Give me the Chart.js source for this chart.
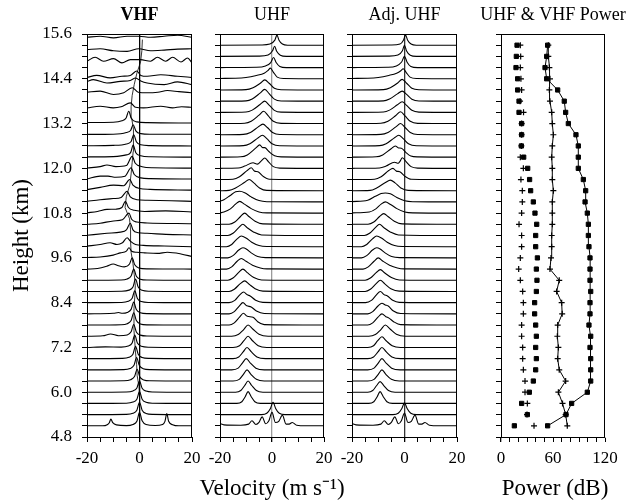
<!DOCTYPE html>
<html>
<head>
<meta charset="utf-8">
<script src="https://cdn.jsdelivr.net/npm/chart.js@4"></script>
<style>
  html, body { margin: 0; padding: 0; background: #fff; }
  #wrap { position: relative; width: 635px; height: 504px; }
  #wrap canvas { position: absolute; left: 0; top: 0; }
</style>
</head>
<body>
<div id="wrap">
  <canvas id="vhfChart" width="635" height="504"></canvas>
  <canvas id="uhfChart" width="635" height="504"></canvas>
  <canvas id="adjChart" width="635" height="504"></canvas>
  <canvas id="powerChart" width="635" height="504"></canvas>
</div>
<script>
// range gates (km), bottom to top
const heights = [5.1, 5.4, 5.7, 6.0, 6.3, 6.6, 6.9, 7.2, 7.5, 7.8, 8.1, 8.4, 8.7, 9.0, 9.3, 9.6, 9.9, 10.2,
  10.5, 10.8, 11.1, 11.4, 11.7, 12.0, 12.3, 12.6, 12.9, 13.2, 13.5, 13.8, 14.1, 14.4, 14.7, 15.0, 15.3];
const gateSpacing = 0.3; // one trace step = one gate

// spectra: [velocity (m/s), amplitude in trace steps], one list per gate, bottom to top
const vhfSpectra = [
  [[-20,0],[-14,0],[-12.3,0.1],[-11.5,0.28],[-10.9,0.6],[-10.2,0.28],[-8.8,0.08],[-5,0.02],[-2.5,0.12],[-1,0.4],[0,1.2],[1,0.45],[2.5,0.12],[6,0.03],[8.8,0.12],[9.7,0.4],[10.4,1.1],[11.1,0.4],[12.6,0.1],[15,0],[20,0]],
  [[-20,0],[-5,0.02],[-2.5,0.12],[-1,0.4],[0,1.1],[1,0.4],[2.5,0.1],[5,0.02],[20,0]],
  [[-20,0],[-5,0.02],[-2.5,0.12],[-1,0.38],[0,1.05],[1,0.38],[2.5,0.1],[5,0.02],[20,0]],
  [[-20,0],[-5,0.02],[-2.5,0.12],[-1,0.38],[0,1.0],[1,0.36],[2.5,0.1],[5,0.02],[20,0]],
  [[-20,0],[-6,0.02],[-3.4,0.12],[-1.9,0.4],[-0.9,1.05],[0.1,0.38],[1.6,0.1],[4,0.02],[20,0]],
  [[-20,0],[-6,0.02],[-3.6,0.12],[-2.1,0.4],[-1.1,1.1],[-0.1,0.4],[1.4,0.1],[4,0.02],[20,0]],
  [[-20,0],[-6.5,0.02],[-4,0.12],[-2.5,0.4],[-1.5,1.1],[-0.5,0.4],[1,0.1],[3.5,0.02],[20,0]],
  [[-20,0],[-13,0.05],[-7,0.03],[-4.3,0.12],[-2.8,0.4],[-1.8,1.1],[-0.8,0.4],[0.7,0.1],[3.5,0.02],[20,0]],
  [[-20,0],[-14,0.04],[-11,0.2],[-8,0.05],[-4.7,0.12],[-3.2,0.4],[-2.2,1.05],[-1.2,0.38],[0.3,0.1],[3,0.02],[20,0]],
  [[-20,0],[-7,0.03],[-4.7,0.12],[-3.2,0.4],[-2.2,1.1],[-1.2,0.4],[0.3,0.1],[3,0.02],[20,0]],
  [[-20,0],[-10,0.05],[-8,0.12],[-6.5,0.05],[-4.7,0.12],[-3.2,0.4],[-2.2,1.05],[-1.2,0.38],[0.3,0.1],[3,0.02],[20,0]],
  [[-20,0],[-7,0.02],[-4.3,0.12],[-2.8,0.4],[-1.8,1.05],[-0.8,0.38],[0.7,0.1],[3.5,0.02],[20,0]],
  [[-20,0],[-7,0.02],[-4,0.12],[-2.5,0.4],[-1.5,1.1],[-0.5,0.4],[1,0.1],[3.5,0.02],[20,0]],
  [[-20,0],[-7,0.02],[-4.7,0.12],[-3.2,0.38],[-2.2,1.0],[-1.2,0.36],[0.3,0.1],[3,0.02],[20,0]],
  [[-20,0],[-16,0.05],[-12.5,0.25],[-10,0.45],[-8,0.3],[-5.8,0.2],[-3.8,0.45],[-2.8,1.0],[-1.8,0.38],[-0.3,0.1],[3,0.02],[20,0]],
  [[-20,0.03],[-15,0.08],[-10,0.25],[-7.3,0.45],[-5,0.6],[-4,0.9],[-3,0.6],[-1,0.5],[2,0.45],[6.8,0.4],[10.6,0.5],[15.8,0.35],[20,0.12]],
  [[-20,0.05],[-15,0.2],[-11.2,0.35],[-8.6,0.2],[-6.5,0.35],[-4.7,0.8],[-3.5,0.5],[-1.5,0.2],[1.5,0.12],[9.4,0.06],[20,0]],
  [[-20,0.02],[-12.4,0.2],[-7.3,0.3],[-5,0.5],[-3.5,1.1],[-2.5,0.5],[-0.5,0.25],[2.9,0.2],[10,0.1],[20,0.05]],
  [[-20,0],[-15,0.1],[-9.9,0.3],[-6.5,0.4],[-4,1.0],[-3,0.45],[-1,0.2],[2.9,0.12],[20,0.05]],
  [[-20,0.03],[-16,0.15],[-12.4,0.33],[-9,0.35],[-6.7,0.5],[-5.4,1.05],[-4.2,0.5],[-2,0.25],[2,0.15],[10,0.2],[20,0.1]],
  [[-20,0.05],[-15,0.2],[-10,0.3],[-7,0.4],[-4.7,0.95],[-3.5,0.45],[-1,0.2],[3,0.15],[12,0.1],[20,0.05]],
  [[-20,0.1],[-15,0.3],[-9.9,0.5],[-6,0.45],[-3.7,1.0],[-2.5,0.5],[0,0.2],[4,0.12],[20,0.05]],
  [[-20,0.05],[-15,0.3],[-12,0.3],[-9,0.2],[-5.5,0.3],[-3.2,1.05],[-2,0.45],[0.5,0.15],[4,0.08],[20,0.05]],
  [[-20,0.03],[-15,0.15],[-12.4,0.3],[-9,0.15],[-5,0.25],[-2.8,1.07],[-1.6,0.45],[1,0.15],[5,0.05],[20,0.02]],
  [[-20,0.02],[-10,0.05],[-5,0.2],[-3.4,0.4],[-2.4,1.07],[-1.4,0.4],[0.5,0.12],[4,0.03],[20,0]],
  [[-20,0.02],[-10,0.05],[-5,0.18],[-3.2,0.4],[-2.2,1.0],[-1.2,0.38],[0.5,0.1],[4,0.03],[20,0]],
  [[-20,0.03],[-10,0.05],[-5,0.2],[-3.4,0.38],[-2.4,0.9],[-1.4,0.35],[0.5,0.1],[4,0.05],[20,0.05]],
  [[-20,0.1],[-10,0.12],[-6.7,0.25],[-5.1,0.5],[-4.1,1.1],[-3.1,0.45],[-1,0.15],[3,0.08],[20,0.05]],
  [[-20,0.4],[-15,0.55],[-10,0.4],[-7,0.5],[-3.5,0.85],[-1.5,0.45],[1.5,0.4],[8.1,0.55],[12.6,0.4],[16,0.5],[20,0.45]],
  [[-20,0.8],[-15,0.9],[-9.9,0.6],[-6,0.75],[-2.8,1.2],[-0.5,0.8],[2.9,0.75],[7,0.8],[10.6,0.95],[15,0.85],[20,0.75]],
  [[-20,0.77],[-17.6,0.92],[-12.4,0.62],[-7.3,0.77],[-3.5,0.85],[-1.5,1.07],[0.5,0.8],[2.9,0.62],[9.4,0.48],[14.5,0.72],[20,0.48]],
  [[-20,0.12],[-16.3,0.3],[-11.2,0.08],[-6.7,0.22],[-3.5,0.3],[-1,0.7],[0.5,0.3],[2.9,0.22],[8.1,0.36],[14.5,0.22],[20,0.12]],
  [[-20,0.57],[-16.9,0.92],[-13.7,0.57],[-9.9,0.8],[-6.7,0.42],[-3.5,0.71],[0.4,0.71],[4.2,0.57],[6.8,0.92],[10,0.57],[12.6,0.92],[15.8,0.5],[18.3,0.86],[20,0.42]],
  [[-20,0.6],[-15,0.68],[-9.9,0.5],[-4.7,0.45],[-0.3,0.68],[4.2,0.5],[9.4,0.56],[14.5,0.65],[20,0.68]],
  [[-20,0.71],[-15,0.8],[-9.9,0.65],[-4.7,0.8],[-0.3,0.8],[4.2,0.71],[9.4,0.8],[14.5,0.89],[20,0.71]]
];

// VHF peak velocity trace (m/s), bottom to top
const vhfPeakVel = [0, 0, 0, -0.2, -0.9, -1.1, -1.5, -1.8, -2.1, -2.1, -2.1, -1.8, -1.6, -2.0, -2.5, -3.2, -3.4, -3.4,
  -3.8, -5.5, -5.0, -3.7, -3.2, -2.8, -2.4, -2.2, -2.4, -3.0, -3.2, -2.8, -2.0, -1.0, 0.4, 0.9, 1.1];

const uhfSpectra = [
  [[-20,0.2],[-18.5,0.08],[-12,0.05],[-9,0.15],[-7.7,0.45],[-6.2,0.12],[-5,0.3],[-3.8,0.8],[-2.4,0.18],[-1.2,0.45],[0,1.2],[1.3,0.3],[2.6,0.4],[4,0.95],[5.4,0.15],[6.6,0.15],[7.8,0.3],[9.5,0.05],[13,0],[20,0]],
  [[-20,0],[-4,0],[-2,0.12],[-0.6,0.55],[0.4,1.1],[1.4,0.55],[2.8,0.12],[5,0],[20,0]],
  [[-20,0],[-13.5,0],[-11.6,0.15],[-10.3,0.6],[-9.2,1.05],[-8,0.6],[-6.6,0.15],[-4.5,0],[20,0]],
  [[-20,0],[-14,0],[-12,0.15],[-10.5,0.6],[-9.2,1.0],[-7.8,0.6],[-6,0.15],[-3.5,0],[20,0]],
  [[-20,0],[-15,0],[-12.6,0.15],[-11,0.6],[-9.6,1.0],[-8.1,0.6],[-6,0.15],[-3,0],[20,0]],
  [[-20,0],[-15.5,0],[-13,0.15],[-11.4,0.6],[-9.9,1.0],[-8.3,0.6],[-6.2,0.15],[-3,0],[20,0]],
  [[-20,0],[-15,0],[-12.8,0.15],[-11.1,0.6],[-9.6,1.0],[-8,0.62],[-5.8,0.15],[-2.5,0],[20,0]],
  [[-20,0],[-15,0],[-12.5,0.15],[-10.8,0.6],[-9.2,1.0],[-7.6,0.62],[-5.3,0.15],[-2,0],[20,0]],
  [[-20,0],[-15.5,0],[-13,0.15],[-10.9,0.6],[-9.2,1.0],[-7.4,0.65],[-5,0.18],[-1.5,0],[20,0]],
  [[-20,0],[-16.5,0],[-14.5,0.2],[-12.5,0.7],[-11,1.05],[-9.5,0.78],[-7.3,0.7],[-5.5,0.3],[-3,0.04],[20,0]],
  [[-20,0],[-16.5,0],[-14.5,0.2],[-12.6,0.7],[-11.2,1.0],[-9.7,0.72],[-8,0.62],[-6,0.25],[-3,0.03],[20,0]],
  [[-20,0],[-16.5,0],[-14.3,0.2],[-12.4,0.7],[-10.9,0.95],[-9.5,0.7],[-8.4,0.6],[-6.3,0.22],[-3.5,0.03],[20,0]],
  [[-20,0],[-16.5,0],[-14.5,0.2],[-12.2,0.7],[-10.5,0.95],[-8.8,0.65],[-6.5,0.25],[-3.5,0.03],[20,0]],
  [[-20,0],[-17,0],[-15,0.2],[-12.8,0.7],[-11.2,1.0],[-9.5,0.68],[-7,0.25],[-4,0.03],[20,0]],
  [[-20,0],[-17.5,0],[-15.5,0.2],[-13.4,0.7],[-11.8,0.95],[-10,0.7],[-7.5,0.35],[-4.5,0.1],[-2,0.02],[20,0]],
  [[-20,0],[-17,0],[-15,0.2],[-12.8,0.7],[-11.2,0.9],[-9.9,0.8],[-8,0.45],[-5.5,0.12],[-2.5,0.02],[20,0]],
  [[-20,0],[-17.5,0],[-15.5,0.2],[-13.4,0.7],[-11.8,0.95],[-10,0.78],[-7.8,0.4],[-5,0.1],[-2,0.02],[20,0]],
  [[-20,0],[-17,0],[-15,0.2],[-12.8,0.7],[-11.2,1.0],[-9.6,0.7],[-7,0.3],[-4,0.05],[20,0]],
  [[-20,0],[-16.5,0],[-14.3,0.2],[-12.1,0.7],[-10.5,1.0],[-8.9,0.7],[-6.5,0.28],[-3.5,0.04],[20,0]],
  [[-20,0.02],[-18.5,0.1],[-16,0.38],[-14,0.8],[-12.4,1.05],[-10.6,0.8],[-8,0.4],[-5,0.1],[-2,0.02],[20,0]],
  [[-20,0.05],[-18.5,0.2],[-16.2,0.55],[-14,0.9],[-12.4,0.95],[-10.5,0.82],[-8,0.45],[-5,0.12],[-2,0.02],[20,0]],
  [[-20,0],[-16.5,0.03],[-14,0.25],[-10.5,0.75],[-8.8,1.0],[-7,0.7],[-4.8,0.25],[-2,0.03],[20,0]],
  [[-20,0],[-15,0.03],[-12.5,0.25],[-9.6,0.8],[-8,1.05],[-6.7,0.75],[-5.4,0.7],[-3.5,0.3],[-1,0.03],[20,0]],
  [[-20,0],[-13,0.03],[-10.5,0.2],[-7.3,0.5],[-5.6,0.38],[-4.2,0.65],[-2.8,0.92],[-1.4,0.6],[0.5,0.15],[3,0.02],[20,0]],
  [[-20,0],[-12,0.03],[-9.5,0.2],[-6.3,0.8],[-4.7,1.1],[-3.6,0.85],[-2.8,0.85],[-1.2,0.5],[1,0.12],[3.5,0.02],[20,0]],
  [[-20,0],[-11,0.03],[-8.5,0.2],[-5.5,0.7],[-3.7,0.95],[-2,0.65],[0,0.2],[3,0.02],[20,0]],
  [[-20,0],[-11,0.03],[-8.3,0.2],[-5.3,0.7],[-3.5,0.95],[-1.8,0.65],[0.2,0.2],[3,0.02],[20,0]],
  [[-20,0],[-10.5,0.03],[-8,0.2],[-5,0.75],[-3.2,1.1],[-1.5,0.7],[0.5,0.2],[3.5,0.02],[20,0]],
  [[-20,0],[-10,0.03],[-7.6,0.2],[-4.6,0.7],[-2.8,1.0],[-1.1,0.65],[0.9,0.18],[3.5,0.02],[20,0]],
  [[-20,0],[-10,0.03],[-7.6,0.2],[-4.6,0.72],[-2.8,1.05],[-1.1,0.68],[0.9,0.18],[3.5,0.02],[20,0]],
  [[-20,0],[-10,0.03],[-7.3,0.2],[-4.5,0.6],[-2.8,0.9],[-1.1,0.6],[0.9,0.15],[3.5,0.02],[20,0]],
  [[-20,0.03],[-14,0.05],[-10,0.12],[-6,0.3],[-3,0.5],[-1.5,0.75],[-0.6,0.95],[0.5,0.6],[2,0.15],[4.5,0.02],[20,0]],
  [[-20,0],[-6,0.03],[-2.5,0.15],[-0.5,0.45],[0.6,0.9],[1.6,0.45],[3,0.1],[5.5,0],[20,0]],
  [[-20,0],[-5,0.02],[-1.5,0.12],[0.2,0.5],[1.0,0.9],[1.8,0.45],[3.2,0.1],[5.5,0],[20,0]],
  [[-20,0],[-4,0.02],[-0.8,0.1],[1.1,0.45],[1.9,0.9],[2.7,0.45],[4,0.1],[6,0],[20,0]]
];

const adjSpectra = [
  [[-20,0.2],[-18.5,0.08],[-12,0.05],[-9,0.15],[-7.7,0.45],[-6.2,0.12],[-5,0.3],[-3.7,0.8],[-2.3,0.18],[-1.2,0.45],[0,1.15],[1.3,0.3],[2.6,0.4],[4,0.95],[5.4,0.15],[6.6,0.15],[7.8,0.3],[9.5,0.05],[13,0],[20,0]],
  [[-20,0],[-4.4,0],[-2.4,0.12],[-1,0.55],[0,1.05],[1,0.55],[2.4,0.12],[4.5,0],[20,0]],
  [[-20,0],[-13.6,0],[-11.7,0.15],[-10.4,0.6],[-9.3,1.05],[-8.1,0.6],[-6.7,0.15],[-4.6,0],[20,0]],
  [[-20,0],[-14,0],[-12.1,0.15],[-10.6,0.6],[-9.3,0.95],[-7.9,0.6],[-6.1,0.15],[-3.6,0],[20,0]],
  [[-20,0],[-14,0],[-11.6,0.15],[-10,0.6],[-8.6,1.0],[-7.1,0.6],[-5,0.15],[-2,0],[20,0]],
  [[-20,0],[-14,0],[-11.6,0.15],[-10,0.6],[-8.6,1.0],[-7,0.6],[-4.9,0.15],[-1.7,0],[20,0]],
  [[-20,0],[-14,0],[-11.8,0.15],[-10.1,0.6],[-8.6,1.0],[-7,0.62],[-4.8,0.15],[-1.5,0],[20,0]],
  [[-20,0],[-14,0],[-11.8,0.15],[-10.2,0.6],[-8.6,0.95],[-7,0.6],[-4.7,0.15],[-1.5,0],[20,0]],
  [[-20,0],[-13.6,0],[-11.1,0.15],[-9,0.6],[-7.3,1.0],[-5.5,0.65],[-3.1,0.18],[0.4,0],[20,0]],
  [[-20,0],[-14,0],[-12.1,0.2],[-10.1,0.7],[-8.6,1.0],[-7.1,0.75],[-5.9,0.62],[-4,0.28],[-1.5,0.04],[20,0]],
  [[-20,0],[-14,0],[-12.1,0.2],[-10.1,0.7],[-8.6,0.95],[-7.3,0.8],[-6.2,0.7],[-4.2,0.25],[-1.5,0.03],[20,0]],
  [[-20,0],[-14.8,0],[-12.6,0.2],[-10.7,0.7],[-9.2,1.0],[-7.8,0.72],[-6.5,0.6],[-4.5,0.22],[-2,0.03],[20,0]],
  [[-20,0],[-15,0],[-13,0.2],[-10.8,0.7],[-9.2,1.0],[-7.5,0.68],[-5.2,0.25],[-2,0.03],[20,0]],
  [[-20,0],[-15,0],[-13,0.2],[-10.8,0.68],[-9.2,0.95],[-7.5,0.65],[-5,0.25],[-2,0.03],[20,0]],
  [[-20,0],[-15.8,0],[-13.8,0.2],[-11.6,0.7],[-10,1.0],[-8.2,0.7],[-5.7,0.35],[-2.7,0.1],[-0.2,0.02],[20,0]],
  [[-20,0],[-16.4,0],[-14.4,0.2],[-12.2,0.7],[-10.6,0.9],[-9.3,0.8],[-7.4,0.45],[-4.9,0.12],[-1.9,0.02],[20,0]],
  [[-20,0],[-16.4,0],[-14.4,0.2],[-12.2,0.7],[-10.6,0.95],[-8.8,0.78],[-6.6,0.4],[-3.8,0.1],[-0.8,0.02],[20,0]],
  [[-20,0],[-15.3,0],[-13.3,0.2],[-11.1,0.7],[-9.5,1.0],[-7.9,0.7],[-5.3,0.3],[-2.3,0.05],[20,0]],
  [[-20,0],[-13.9,0],[-11.7,0.2],[-9.5,0.7],[-7.9,0.95],[-6.3,0.7],[-3.9,0.28],[-0.9,0.04],[20,0]],
  [[-20,0.02],[-13.4,0.1],[-10.9,0.38],[-8.9,0.8],[-7.3,1.0],[-5.5,0.8],[-2.9,0.4],[0.1,0.1],[3.1,0.02],[20,0]],
  [[-20,0.03],[-14,0.15],[-11.1,0.5],[-8.9,0.75],[-7.3,0.8],[-5.4,0.72],[-2.9,0.4],[0.1,0.1],[3.1,0.02],[20,0]],
  [[-20,0],[-13.1,0.03],[-10.6,0.25],[-7.1,0.75],[-5.4,0.95],[-3.6,0.7],[-1.4,0.25],[1.4,0.03],[20,0]],
  [[-20,0],[-11.4,0.03],[-8.9,0.25],[-6,0.8],[-4.4,1.0],[-3.1,0.75],[-1.8,0.7],[0.1,0.3],[2.6,0.03],[20,0]],
  [[-20,0],[-9.5,0.03],[-7,0.2],[-3.8,0.55],[-2.4,0.45],[-1.8,0.6],[-0.8,0.95],[0.6,0.6],[2.5,0.15],[5,0.02],[20,0]],
  [[-20,0],[-10.8,0.03],[-8.3,0.2],[-5.1,0.75],[-3.5,1.0],[-2.3,0.82],[-1.2,0.8],[0.4,0.45],[2.4,0.1],[5,0.02],[20,0]],
  [[-20,0],[-9.5,0.03],[-7,0.2],[-4,0.7],[-2.2,0.95],[-0.5,0.65],[1.5,0.2],[4.5,0.02],[20,0]],
  [[-20,0],[-9,0.03],[-6.3,0.2],[-3.3,0.7],[-1.5,1.0],[0.2,0.65],[2.2,0.2],[5,0.02],[20,0]],
  [[-20,0],[-9,0.03],[-6.3,0.2],[-3.3,0.72],[-1.5,1.05],[0.2,0.68],[2.2,0.2],[5,0.02],[20,0]],
  [[-20,0],[-8,0.03],[-5.7,0.2],[-2.7,0.68],[-0.9,0.95],[0.8,0.62],[2.8,0.18],[5.5,0.02],[20,0]],
  [[-20,0],[-8,0.03],[-5.7,0.2],[-2.7,0.65],[-0.9,0.9],[0.8,0.6],[2.8,0.18],[5.5,0.02],[20,0]],
  [[-20,0],[-8,0.03],[-5.4,0.2],[-2.6,0.62],[-0.9,0.95],[0.8,0.6],[2.8,0.15],[5.5,0.02],[20,0]],
  [[-20,0.03],[-14,0.05],[-10,0.12],[-6,0.3],[-3,0.5],[-1.4,0.72],[-0.5,0.9],[0.6,0.58],[2.1,0.15],[4.6,0.02],[20,0]],
  [[-20,0],[-6.6,0.03],[-3.1,0.15],[-1.1,0.5],[0,1.0],[1,0.48],[2.4,0.1],[5,0],[20,0]],
  [[-20,0],[-6,0.02],[-2.5,0.12],[-0.8,0.5],[0,1.0],[0.8,0.48],[2.2,0.1],[4.5,0],[20,0]],
  [[-20,0],[-5,0.02],[-1.7,0.1],[-0.4,0.45],[0.4,0.9],[1.2,0.45],[2.5,0.1],[4.5,0],[20,0]]
];

// power profiles (dB), bottom to top
const uhfSignal = [53.8, 75, 81.5, 99.6, 103.5, 103.5, 103.5, 102.7, 103.5, 101.5, 102.7, 102.7, 103.5, 102.7, 102.7, 102.7,
  101.5, 100.8, 100.8, 99.6, 97, 97.7, 95, 89.2, 89.2, 89.2, 86.5, 77.7, 74.6, 73, 65.4, 52.7, 50.8, 52.7, 53.8];
const vhfSignal = [76.5, 74.6, 71, 66.2, 74.6, 67.2, 65.4, 66.2, 65, 65.4, 70.6, 70, 64.2, 67.2, 56.5, 57.7,
  58.5, 58.5, 59.2, 59.2, 59.2, 60.4, 59.2, 59.2, 58.5, 59.2, 60.4, 59.2, 58.5, 56.5, 55.8, 56.5, 55.8, 54.6, 54.6];
const uhfNoise = [15.4, 30.4, 23.8, 32.7, 37.3, 40, 40.8, 40, 40.8, 40, 38.8, 38.8, 40.8, 41.5, 40.8, 42,
  40, 40, 41.2, 39.2, 37.3, 34.2, 33, 30.8, 26.2, 23.5, 23.8, 23.8, 20.8, 20.8, 19.2, 19.2, 17.3, 17.7, 18.5];
const vhfNoise = [38.1, 30, 30.4, 27.7, 27.7, 25.8, 25, 25, 23.8, 23.8, 25.8, 25.8, 25, 22.3, 20.4, 22.3,
  23.8, 23.8, 20.8, 23.8, 24.6, 24.6, 23, 25.8, 22.3, 23.5, 23.8, 23.8, 26, 22, 23.8, 23, 22.3, 22.7, 22.3];

const panelTitles = ['VHF', 'UHF', 'Adj. UHF', 'UHF & VHF Power'];
const velocityTicks = [-20, 0, 20];
const powerTicks = [0, 60, 120];

const SERIF = "'Liberation Serif', 'Times New Roman', serif";
Chart.defaults.font.family = SERIF;
Chart.defaults.color = '#000';

// box round each panel, panel heading and the shared axis captions
const panelDecor = {
  id: 'panelDecor',
  afterDraw(chart, args, opts) {
    const a = chart.chartArea, c = chart.ctx;
    const mid = (a.left + a.right) / 2;
    c.save();
    c.strokeStyle = '#000';
    c.lineWidth = 1;
    c.strokeRect(Math.round(a.left) + 0.5, Math.round(a.top) + 0.5, Math.round(a.right - a.left) - 1, Math.round(a.bottom - a.top));
    c.fillStyle = '#000';
    c.textAlign = 'center';
    c.textBaseline = 'middle';
    c.font = (opts.bold ? 'bold ' : '') + '18px ' + SERIF;
    c.fillText(opts.title, mid, 15);
    if (opts.caption) {
      c.font = '23px ' + SERIF;
      c.textBaseline = 'alphabetic';
      c.fillText(opts.caption, mid + (opts.shift || 0), 495);
    }
    c.restore();
  }
};

function heightAxis(withLabels, width) {
  return {
    type: 'linear', min: 4.8, max: 15.6,
    afterFit: s => { s.width = width; },
    grid: { drawOnChartArea: false, tickLength: 5, tickColor: '#000' },
    border: { color: '#000' },
    ticks: {
      stepSize: 0.3, autoSkip: false, display: withLabels, padding: 10, font: { size: 17 },
      callback: v => Math.abs(v / 1.2 - Math.round(v / 1.2)) < 1e-6 ? v.toFixed(1) : ''
    },
    title: { display: withLabels, text: 'Height (km)', font: { size: 23 }, padding: { top: 8 } }
  };
}

function bottomAxis(min, max, step, labels, zeroColor) {
  return {
    type: 'linear', min: min, max: max,
    afterFit: s => { s.height = 67; },
    grid: {
      color: c => (zeroColor && c.tick && c.tick.value === 0) ? zeroColor : 'rgba(0,0,0,0)',
      lineWidth: c => (c.tick && c.tick.value === 0) ? 1.3 : 1,
      tickColor: '#000', tickLength: 5
    },
    border: { color: '#000' },
    ticks: {
      stepSize: step, autoSkip: false, maxRotation: 0, padding: 6, font: { size: 17 },
      callback: v => labels.includes(v) ? String(v) : ''
    }
  };
}

function traceSets(spectra) {
  return spectra.map((tr, i) => ({
    data: tr.map(([v, a]) => ({ x: v, y: heights[i] + a * gateSpacing })),
    borderColor: '#000', borderWidth: 1.1, pointRadius: 0,
    cubicInterpolationMode: 'monotone', fill: false
  }));
}

function panel(id, datasets, decor, padL, padR, yAxis, xAxis) {
  return new Chart(document.getElementById(id), {
    type: 'line',
    data: { datasets: datasets },
    options: {
      responsive: false, animation: false, events: [],
      layout: { padding: { left: padL, right: padR, top: 34, bottom: 0 } },
      scales: { x: xAxis, y: yAxis },
      plugins: {
        legend: { display: false },
        tooltip: { enabled: false },
        panelDecor: decor
      }
    },
    plugins: [panelDecor]
  });
}

// VHF
const vhfSets = traceSets(vhfSpectra);
vhfSets.push({
  data: heights.map((h, i) => ({ x: vhfPeakVel[i], y: h + 0.5 * gateSpacing })),
  borderColor: '#000', borderWidth: 0.8, pointRadius: 0, tension: 0, fill: false
});
panel('vhfChart', vhfSets, { title: panelTitles[0], bold: true }, 0, 443,
  heightAxis(true, 87), bottomAxis(-20, 20, 5, velocityTicks, '#000'));

// UHF
panel('uhfChart', traceSets(uhfSpectra), { title: panelTitles[1], caption: 'Velocity (m s\u207B\u00B9)' }, 214, 311,
  heightAxis(false, 6), bottomAxis(-20, 20, 5, velocityTicks, '#9a9a9a'));

// Adjusted UHF
panel('adjChart', traceSets(adjSpectra), { title: panelTitles[2] }, 346, 178,
  heightAxis(false, 6), bottomAxis(-20, 20, 5, velocityTicks, '#333'));

// Power profiles
const toPts = arr => arr.map((p, i) => ({ x: p, y: heights[i] }));
panel('powerChart', [
  { data: toPts(uhfSignal), borderColor: '#000', borderWidth: 1, pointStyle: 'rect', pointRadius: 3,
    pointBackgroundColor: '#000', pointBorderColor: '#000', pointBorderWidth: 1, tension: 0 },
  { data: toPts(vhfSignal), borderColor: '#000', borderWidth: 1, pointStyle: 'cross', pointRadius: 3,
    pointBorderColor: '#000', pointBorderWidth: 1.2, tension: 0 },
  { data: toPts(uhfNoise), showLine: false, pointStyle: 'rect', pointRadius: 3,
    pointBackgroundColor: '#000', pointBorderColor: '#000', pointBorderWidth: 1 },
  { data: toPts(vhfNoise), showLine: false, pointStyle: 'cross', pointRadius: 3,
    pointBorderColor: '#000', pointBorderWidth: 1.2 }
], { title: panelTitles[3], caption: 'Power (dB)', shift: 2 }, 495, 30,
  heightAxis(false, 6), bottomAxis(0, 120, 10, powerTicks, null));
</script>
</body>
</html>
